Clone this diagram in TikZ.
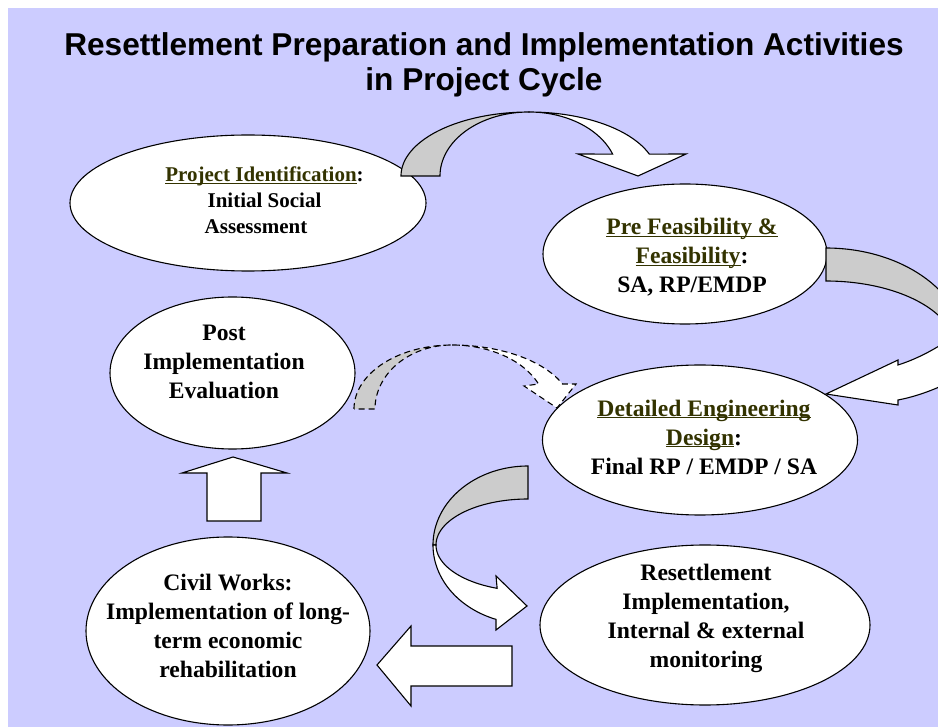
\documentclass[tikz,border=0pt]{standalone}
\usepackage{fontspec}
\setmainfont{Liberation Serif}
\newfontfamily\titlefont{Liberation Sans}
\usetikzlibrary{shapes.geometric}
\definecolor{bgblue}{HTML}{CCCCFF}
\definecolor{bandgray}{HTML}{CCCCCC}
\definecolor{headolive}{HTML}{333300}
\newcommand{\olul}[1]{{\setbox0\hbox{#1}\rlap{\textcolor{headolive}{\rule[-2.4pt]{\wd0}{1.1pt}}}\textcolor{headolive}{#1}}}
\newcommand{\ellpath}[6]{plot[domain=#5:#6,samples=60,variable=\myang]({#1+#3*cos(\myang)},{#2-#4*sin(\myang)})}
\newcommand{\ellto}[6]{-- plot[domain=#5:#6,samples=60,variable=\myang]({#1+#3*cos(\myang)},{#2-#4*sin(\myang)})}
\tikzset{
  bubble/.style={ellipse, draw=black, fill=white, line width=1.1pt, inner sep=0pt},
  blockarrow/.style={draw=black, line width=1.1pt, fill=white, line join=miter},
  backband/.style={draw=black, line width=1.1pt, fill=bandgray, line join=miter},
  dasharrow/.style={dash pattern=on 6pt off 4pt},
  bodytext/.style={text=black, font=\bfseries\fontsize{23.6}{29}\selectfont, align=center, inner sep=0pt},
  smalltext/.style={text=black, font=\bfseries\fontsize{21}{26}\selectfont, align=center, inner sep=0pt},
  titletext/.style={text=black, font=\titlefont\bfseries\fontsize{31.6}{35}\selectfont, inner sep=0pt, anchor=base}
}
\begin{document}
\begin{tikzpicture}[x=1pt,y=-1pt]
\useasboundingbox (0,0) rectangle (938,727);
\clip (0,0) rectangle (938,727);
\fill[bgblue] (8,8) rectangle (938,727);

% title
\node[titletext] (title1) at (484,56) {Resettlement Preparation and Implementation Activities};
\node[titletext] (title2) at (484,91) {in Project Cycle};

% ellipses
\node[bubble, minimum width=356pt, minimum height=136pt] (pidell) at (248,203) {};
\node[bubble, minimum width=284pt, minimum height=140pt] (preell) at (685,254) {};
\node[bubble, minimum width=245pt, minimum height=152pt] (postell) at (232.5,373) {};
\node[bubble, minimum width=315pt, minimum height=150pt] (detell) at (700,440) {};
\node[bubble, minimum width=284pt, minimum height=188pt] (civell) at (228,631) {};
\node[bubble, minimum width=330pt, minimum height=160pt] (resell) at (705,625) {};

% arrow 1 : Project Identification -> Pre Feasibility
\path[backband] \ellpath{529}{176}{128}{64}{180}{90} \ellto{529}{176}{89}{64}{90}{180} -- cycle;
\path[blockarrow] \ellpath{529}{176}{128}{64}{90}{20} -- (686,154) -- (638,176) -- (578,154)
   \ellto{529}{176}{89}{64}{20}{90} -- cycle;

% arrow 2 : Pre Feasibility -> Detailed Engineering
\path[backband] \ellpath{826}{350}{140}{102}{90}{0} \ellto{826}{350}{130}{69}{0}{90} -- cycle;
\path[blockarrow] (898,365) .. controls (920,358) and (945,345) .. (975,320) -- (985,360)
   .. controls (960,380) and (925,395) .. (898,400) -- (898,405) -- (826,394) -- (898,360) -- cycle;

% arrow 3 (dashed) : Post Implementation -> Detailed Engineering
\path[backband, dasharrow] \ellpath{452}{409}{98}{64}{180}{90} \ellto{452}{409}{77}{64}{90}{180} -- cycle;
\path[blockarrow, dasharrow] \ellpath{452}{409}{120}{64}{90}{23} -- (576,384) -- (557,408) -- (524,386)
   \ellto{452}{409}{94}{64}{23}{90} -- cycle;

% arrow 4 : Detailed Engineering -> Resettlement
\path[backband] \ellpath{528}{545}{95}{79}{90}{180} \ellto{528}{545}{92}{46}{180}{90} -- cycle;
\path[blockarrow] \ellpath{528}{545}{95}{79}{180}{250.3} -- (496,630) -- (527,606) -- (496,576)
   \ellto{528}{545}{92}{46}{250.4}{180} -- cycle;

% arrow 5 : Civil Works -> Post Implementation (up)
\path[blockarrow] (207,521) -- (207,473) -- (182,473) -- (233,457) -- (287,473) -- (261,473) -- (261,521) -- cycle;

% arrow 6 : Resettlement -> Civil Works (left)
\path[blockarrow] (512,646) -- (411,646) -- (411,626) -- (377,665) -- (411,706) -- (411,686) -- (512,686) -- cycle;

% texts
\node[smalltext] (pidtext) at (264.5,200) {\olul{Project Identification}:\\Initial Social\hspace*{17pt}\\Assessment\hspace*{17pt}};
\node[bodytext] (pretext) at (692,257) {\olul{Pre Feasibility \&}\\\olul{Feasibility}:\\SA, RP/EMDP};
\node[bodytext] (posttext) at (224,362) {Post\\Implementation\\Evaluation};
\node[bodytext] (dettext) at (704,437) {\olul{Detailed Engineering}\\\olul{Design}:\\Final RP / EMDP / SA};
\node[bodytext] (civtext) at (228,626) {Civil Works:\\Implementation of long-\\term economic\\rehabilitation};
\node[bodytext] (restext) at (706,618) {Resettlement\\Implementation,\\Internal \& external\\monitoring};
\end{tikzpicture}
\end{document}
